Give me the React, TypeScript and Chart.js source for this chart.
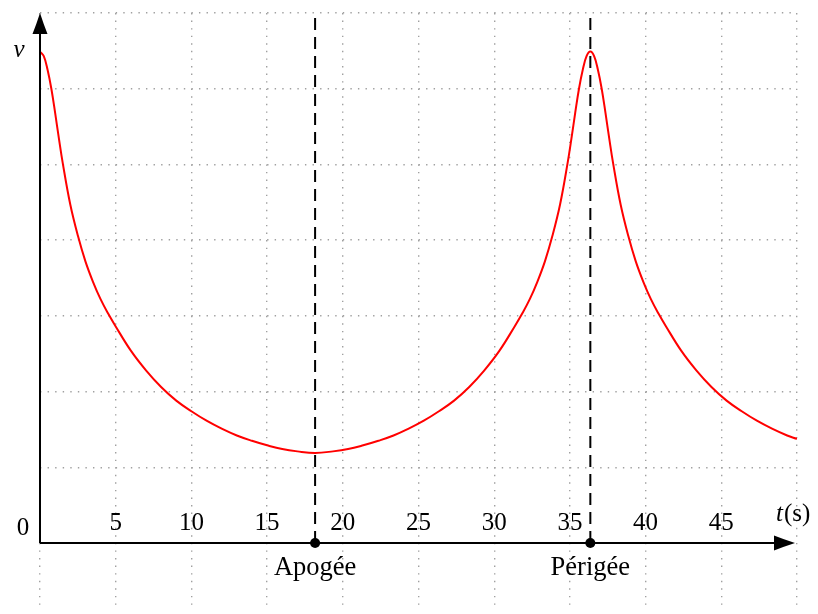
import { useEffect, useRef } from 'react';
import { Chart, registerables } from 'chart.js';

Chart.register(...registerables);

// ---- data ----
const timeGridValues = [0, 5, 10, 15, 20, 25, 30, 35, 40, 45, 50];
const speedGridValues = [0, 1, 2, 3, 4, 5, 6, 7];
const timeTickValues = [5, 10, 15, 20, 25, 30, 35, 40, 45];
const timeTickLabels = ['5', '10', '15', '20', '25', '30', '35', '40', '45'];

// (t in s, v in grid units)
const curveTimes = [
  0, 0.25, 0.5, 0.75, 1, 1.25, 1.5, 2, 2.5, 3, 3.5, 4, 4.5, 5, 6, 7, 8, 9, 10, 11, 12, 13, 14,
  15, 16, 17, 18.17,
  19.35, 20.35, 21.35, 22.35, 23.35, 24.35, 25.35, 26.35, 27.35, 28.35, 29.35, 30.35, 31.35,
  31.85, 32.35, 32.85, 33.35, 33.85, 34.35, 34.85, 35.1, 35.35, 35.6, 35.85, 36.1, 36.35,
  36.6, 36.85, 37.1, 37.35, 37.6, 37.85, 38.35, 38.85, 39.35, 39.85, 40.35, 40.85, 41.35,
  42.35, 43.35, 44.35, 45.35, 46.35, 47.35, 48.35, 49.35, 50,
];
const curveSpeeds = [
  6.49, 6.43, 6.25, 6.0, 5.68, 5.34, 5.02, 4.47, 4.06, 3.72, 3.45, 3.22, 3.03, 2.86, 2.54, 2.28,
  2.06, 1.88, 1.74, 1.615, 1.51, 1.42, 1.35, 1.29, 1.24, 1.21, 1.19,
  1.21, 1.24, 1.29, 1.35, 1.42, 1.51, 1.615, 1.74, 1.88, 2.06, 2.28, 2.54, 2.86,
  3.03, 3.22, 3.45, 3.72, 4.06, 4.47, 5.02, 5.34, 5.68, 6.0, 6.25, 6.43, 6.49,
  6.43, 6.25, 6.0, 5.68, 5.34, 5.02, 4.47, 4.06, 3.72, 3.45, 3.22, 3.03, 2.86,
  2.54, 2.28, 2.06, 1.88, 1.74, 1.615, 1.51, 1.42, 1.375,
];

const eventTimes = [18.17, 36.35];
const eventLabels = ['Apogée', 'Périgée'];

const xMin = 0;
const xMax = 50;
const yMin = -0.872;
const yMax = 7;

const FONT = '"Liberation Serif", "Times New Roman", serif';

const axesPlugin = {
  id: 'physAxes',
  afterDraw(chart: any) {
    const ctx = chart.ctx as CanvasRenderingContext2D;
    const xs = chart.scales.x;
    const ys = chart.scales.y;
    const x0 = xs.getPixelForValue(0);
    const y0 = ys.getPixelForValue(0);
    const xTip = xs.right - 2;
    const yTip = ys.top;
    ctx.save();
    ctx.strokeStyle = '#000';
    ctx.fillStyle = '#000';
    ctx.lineWidth = 2;
    ctx.setLineDash([]);
    // x axis
    ctx.beginPath();
    ctx.moveTo(x0, y0);
    ctx.lineTo(xTip - 10, y0);
    ctx.stroke();
    // y axis
    ctx.beginPath();
    ctx.moveTo(x0, y0);
    ctx.lineTo(x0, yTip + 10);
    ctx.stroke();
    // arrow heads
    const L = 21;
    const W = 7.5;
    ctx.beginPath();
    ctx.moveTo(xTip, y0);
    ctx.quadraticCurveTo(xTip - L * 0.5, y0 - W * 0.45, xTip - L, y0 - W);
    ctx.lineTo(xTip - L, y0 + W);
    ctx.quadraticCurveTo(xTip - L * 0.5, y0 + W * 0.45, xTip, y0);
    ctx.closePath();
    ctx.fill();
    ctx.beginPath();
    ctx.moveTo(x0, yTip);
    ctx.quadraticCurveTo(x0 - W * 0.45, yTip + L * 0.5, x0 - W, yTip + L);
    ctx.lineTo(x0 + W, yTip + L);
    ctx.quadraticCurveTo(x0 + W * 0.45, yTip + L * 0.5, x0, yTip);
    ctx.closePath();
    ctx.fill();

    // tick labels
    ctx.font = `25px ${FONT}`;
    ctx.textAlign = 'center';
    ctx.textBaseline = 'alphabetic';
    timeTickValues.forEach((v, i) => {
      ctx.fillText(timeTickLabels[i], xs.getPixelForValue(v), y0 - 12.5);
    });
    ctx.fillText('0', x0 - 17, y0 - 8);

    // event labels
    ctx.font = `26.5px ${FONT}`;
    eventTimes.forEach((t, i) => {
      ctx.fillText(eventLabels[i], xs.getPixelForValue(t), y0 + 32);
    });

    // axis titles
    ctx.font = `italic 25px ${FONT}`;
    ctx.fillText('v', x0 - 21, yTip + 44);
    ctx.textAlign = 'left';
    const tx = xs.right - 21;
    const ty = y0 - 22;
    ctx.fillText('t', tx, ty);
    const tw = ctx.measureText('t').width;
    ctx.font = `25px ${FONT}`;
    ctx.fillText('(s)', tx + tw + 1, ty);
    ctx.restore();
  },
};

export default function App() {
  const canvasRef = useRef<HTMLCanvasElement | null>(null);

  useEffect(() => {
    document.body.style.margin = '0';
    const canvas = canvasRef.current;
    if (!canvas) return;

    const curveData = curveTimes.map((t, i) => ({ x: t, y: curveSpeeds[i] }));
    const eventDatasets = eventTimes.map((t) => ({
      type: 'line' as const,
      data: [
        { x: t, y: 0 },
        { x: t, y: yMax },
      ],
      borderColor: '#000',
      borderWidth: 2,
      borderDash: [12, 7],
      pointRadius: [5, 0],
      pointBackgroundColor: '#000',
      pointBorderWidth: 0,
      fill: false,
      tension: 0,
      order: 0,
    }));

    const gridOpts = { color: '#a0a0a0', lineWidth: 1.4, drawTicks: false };
    const borderOpts = { display: false, dash: [1.4, 6.17] };

    const chart = new Chart(canvas, {
      type: 'line',
      data: {
        datasets: [
          ...eventDatasets,
          {
            data: curveData,
            borderColor: '#ff0000',
            borderWidth: 2,
            pointRadius: 0,
            tension: 0.4,
            fill: false,
            order: 1,
          },
        ],
      },
      options: {
        animation: false,
        responsive: false,
        maintainAspectRatio: false,
        devicePixelRatio: 1,
        layout: { padding: { left: 40, right: 21, top: 13, bottom: 0 } },
        plugins: { legend: { display: false }, tooltip: { enabled: false } },
        scales: {
          x: {
            type: 'linear',
            min: xMin,
            max: xMax,
            afterBuildTicks: (scale: any) => {
              scale.ticks = timeGridValues.map((v) => ({ value: v }));
            },
            afterFit: (scale: any) => {
              scale.height = 0;
            },
            ticks: { display: false },
            border: borderOpts,
            grid: gridOpts,
          },
          y: {
            type: 'linear',
            min: yMin,
            max: yMax,
            afterBuildTicks: (scale: any) => {
              scale.ticks = speedGridValues.map((v) => ({ value: v }));
            },
            afterFit: (scale: any) => {
              scale.width = 0;
            },
            ticks: { display: false },
            border: borderOpts,
            grid: gridOpts,
          },
        },
      } as any,
      plugins: [axesPlugin],
    });

    return () => chart.destroy();
  }, []);

  return (
    <div style={{ position: 'absolute', left: 0, top: 0, width: 818, height: 614 }}>
      <canvas ref={canvasRef} width={818} height={614} style={{ display: 'block', width: 818, height: 614 }} />
    </div>
  );
}
